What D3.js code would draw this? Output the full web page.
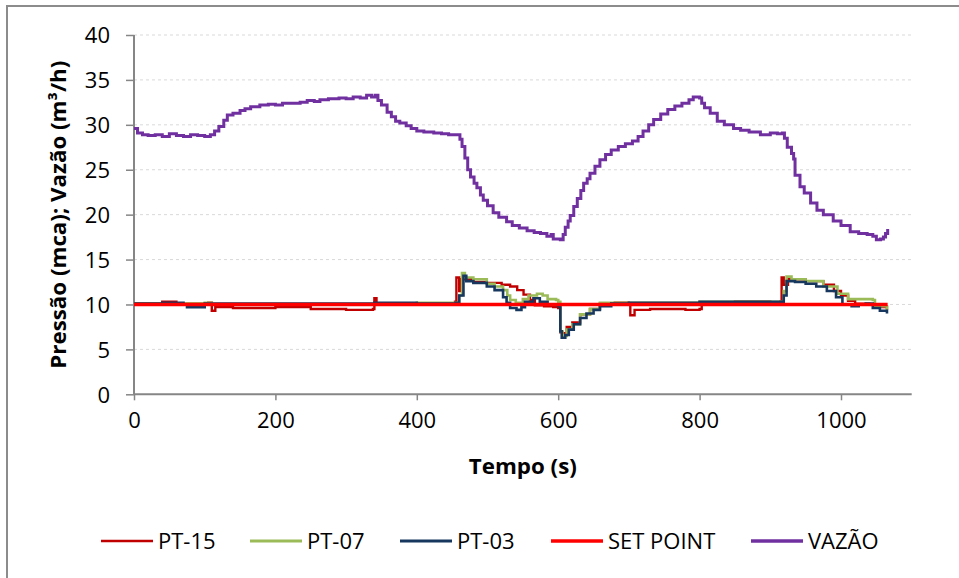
<!DOCTYPE html>
<html>
<head>
<meta charset="utf-8">
<script src="https://cdn.jsdelivr.net/npm/d3@7"></script>
<style>
  body { margin: 0; background: #fff; }
  svg { font-family: "Open Sans", Lato, sans-serif; }
</style>
</head>
<body>
<svg width="959" height="578"></svg>
<script>
// time (s) / value pairs
var vazao = [[0,29.6],[5,29.1],[12,28.9],[20,28.8],[30,28.9],[40,28.7],[50,29.0],[60,28.8],[70,28.7],[80,28.9],[90,28.8],[100,28.7],[108,28.9],[114,29.3],[120,29.8],[127,30.5],[132,31.1],[140,31.3],[150,31.6],[157,31.8],[165,32.0],[178,32.2],[190,32.3],[200,32.2],[210,32.4],[221,32.4],[235,32.5],[245,32.7],[255,32.6],[263,32.8],[275,32.9],[290,33.0],[300,32.9],[310,33.1],[320,33.0],[329,33.3],[336,33.1],[341,33.3],[345,32.7],[350,32.2],[358,31.4],[364,30.9],[370,30.4],[376,30.2],[385,29.9],[392,29.6],[400,29.3],[410,29.2],[424,29.1],[435,29.0],[445,28.9],[457,28.9],[461,28.4],[464,27.6],[468,26.3],[472,25.0],[476,24.2],[481,23.5],[485,23.0],[490,22.2],[494,21.6],[500,21.0],[508,20.2],[516,19.7],[527,19.2],[535,18.8],[545,18.5],[556,18.2],[566,18.0],[575,17.9],[584,17.6],[590,17.8],[593,17.3],[603,17.2],[607,17.8],[610,18.6],[614,19.3],[617,19.9],[622,20.9],[627,21.8],[632,22.7],[636,23.5],[641,24.0],[645,24.6],[652,25.4],[659,26.1],[667,26.7],[675,27.2],[685,27.6],[695,27.9],[705,28.2],[713,28.7],[720,29.3],[728,30.0],[735,30.6],[745,31.2],[755,31.7],[765,32.1],[775,32.4],[785,32.8],[791,33.1],[800,33.0],[803,32.4],[807,31.9],[815,31.3],[825,30.4],[835,30.0],[848,29.6],[858,29.4],[870,29.2],[886,28.9],[900,29.1],[910,29.0],[917,29.1],[920,28.5],[924,27.5],[930,26.8],[933,26.2],[935,24.4],[942,23.1],[948,22.4],[957,21.3],[966,20.5],[975,20.0],[989,19.3],[1000,18.8],[1013,18.1],[1025,17.9],[1037,17.8],[1045,17.6],[1050,17.2],[1056,17.3],[1060,17.5],[1063,17.9],[1066,18.4]];

var pt15 = [[0,10.1],[40,10.3],[60,10.1],[105,10.2],[110,9.3],[115,9.7],[140,9.6],[200,9.7],[250,9.5],[300,9.4],[338,9.5],[340,10.7],[343,10.1],[400,10.0],[440,10.1],[454,10.3],[456,13.0],[460,11.5],[463,12.8],[480,12.5],[499,12.4],[520,12.2],[532,12.0],[542,11.6],[551,11.1],[560,10.5],[567,9.9],[580,9.8],[593,9.7],[600,9.6],[603,6.9],[606,6.8],[612,7.5],[620,8.0],[631,8.9],[645,9.5],[659,10.1],[680,10.2],[700,10.1],[702,8.8],[708,9.4],[730,9.5],[780,9.4],[800,9.5],[803,10.2],[850,10.3],[900,10.2],[914,10.3],[916,13.0],[919,12.2],[925,12.8],[950,12.6],[975,12.2],[990,11.5],[1000,11.0],[1010,10.4],[1020,10.1],[1040,10.0],[1055,9.7],[1065,9.4]];

var pt07 = [[0,10.1],[100,10.2],[110,10.0],[200,10.0],[340,10.1],[400,10.2],[455,10.2],[460,11.0],[464,13.5],[468,13.0],[480,12.8],[499,12.3],[510,12.0],[522,11.6],[528,11.0],[532,10.5],[540,10.2],[550,10.6],[558,11.0],[570,11.2],[578,11.0],[585,10.6],[597,10.5],[600,10.3],[603,7.0],[606,6.5],[612,7.2],[620,7.8],[631,8.9],[645,9.5],[659,10.2],[690,10.2],[800,10.3],[915,10.3],[919,11.5],[923,13.1],[930,12.8],[950,12.6],[975,12.0],[995,11.2],[1010,10.6],[1030,10.6],[1045,10.5],[1048,9.8],[1055,9.8],[1065,9.4]];

var pt03 = [[0,10.1],[40,10.2],[70,10.0],[75,9.7],[95,9.7],[100,10.1],[200,10.1],[340,10.2],[400,10.1],[455,10.2],[460,11.0],[466,13.2],[470,12.6],[480,12.4],[499,12.0],[510,11.6],[522,10.8],[527,10.2],[532,9.6],[541,9.4],[548,9.7],[553,10.3],[565,10.7],[574,10.3],[585,10.0],[600,9.8],[603,7.0],[605,6.3],[610,6.6],[615,7.2],[622,7.8],[631,8.5],[640,9.0],[650,9.4],[659,9.8],[675,10.1],[700,10.2],[800,10.3],[915,10.3],[919,11.0],[923,12.6],[935,12.5],[950,12.3],[965,12.0],[980,11.5],[993,10.8],[1002,10.0],[1015,9.8],[1025,10.0],[1035,10.1],[1045,9.6],[1055,9.3],[1065,9.0]];

var setPoint = [[0,10],[1066,10]];

var seriesNames = ["PT-15", "PT-07", "PT-03", "SET POINT", "VAZÃO"];
var xTicks = [0, 200, 400, 600, 800, 1000];
var yTicks = [0, 5, 10, 15, 20, 25, 30, 35, 40];

function drawChart()
{
    var svg = d3.select("svg");
    var left = 134, right = 911.7, top = 35, bottom = 394.3;

    // outer chart frame
    svg.append("rect")
        .attr("x", 7).attr("y", 6)
        .attr("width", 970).attr("height", 600)
        .attr("fill", "none")
        .attr("stroke", "#8c8c8c")
        .attr("stroke-width", 2);

    var xScale = d3.scaleLinear().domain([0, 1100]).range([left, right]);
    var yScale = d3.scaleLinear().domain([0, 40]).range([bottom, top]);

    // grid
    svg.append("g")
        .selectAll("line")
        .data(yTicks.filter(function(d) { return d > 0; }))
        .enter()
        .append("line")
        .attr("x1", left).attr("x2", right)
        .attr("y1", function(d) { return yScale(d); })
        .attr("y2", function(d) { return yScale(d); })
        .attr("stroke", "#d9d9d9")
        .attr("stroke-dasharray", "3,3");

    var y_axis = d3.axisLeft(yScale).tickValues(yTicks).tickFormat(d3.format("d")).tickSize(8).tickPadding(16);
    var x_axis = d3.axisBottom(xScale).tickValues(xTicks).tickFormat(d3.format("d")).tickSize(6).tickPadding(12);

    var gy = svg.append("g")
        .attr("transform", "translate(" + left + ",0)")
        .call(y_axis);
    var gx = svg.append("g")
        .attr("transform", "translate(0," + bottom + ")")
        .call(x_axis);

    [gx, gy].forEach(function(g) {
        g.select(".domain").attr("stroke", "#868686").attr("stroke-width", 2);
        g.selectAll(".tick line").attr("stroke", "#868686").attr("stroke-width", 1.5);
        g.selectAll(".tick text").attr("fill", "#000").style("font-size", "22px")
            .style("font-family", "'Open Sans', Lato, sans-serif");
    });
    gy.selectAll(".tick text").attr("dy", "0.35em");
    // x axis ends without tick at 1100, y domain without outer ticks
    gx.select(".domain").attr("d", "M" + left + ",0H" + right);
    gy.select(".domain").attr("d", "M0," + bottom + "V" + top);

    var line = d3.line()
        .x(function(d) { return xScale(d[0]); })
        .y(function(d) { return yScale(d[1]); })
        .curve(d3.curveStepAfter);

    var series = [
        {data: pt15, color: "#c00000", width: 2.4},
        {data: pt07, color: "#9bbb59", width: 2.6},
        {data: pt03, color: "#17375e", width: 2.6},
        {data: setPoint, color: "#ff0000", width: 3.4},
        {data: vazao, color: "#7030a0", width: 3}
    ];

    series.forEach(function(s) {
        svg.append("path")
            .attr("d", line(s.data))
            .attr("fill", "none")
            .attr("stroke", s.color)
            .attr("stroke-width", s.width)
            .attr("stroke-linejoin", "miter");
    });

    // axis titles
    svg.append("text")
        .attr("x", (left + right) / 2).attr("y", 474)
        .attr("text-anchor", "middle")
        .style("font-size", "21px").style("font-weight", "bold")
        .attr("textLength", 108).attr("lengthAdjust", "spacingAndGlyphs")
        .text("Tempo (s)");

    svg.append("text")
        .attr("transform", "translate(66," + ((top + bottom) / 2) + ") rotate(-90)")
        .attr("text-anchor", "middle")
        .style("font-size", "21px").style("font-weight", "bold")
        .attr("textLength", 308).attr("lengthAdjust", "spacingAndGlyphs")
        .text("Pressão (mca); Vazão (m³/h)");

    // legend
    var legendX = [101, 250, 400, 551, 751];
    var legend = svg.append("g");
    series.forEach(function(s, i) {
        legend.append("line")
            .attr("x1", legendX[i]).attr("x2", legendX[i] + 52)
            .attr("y1", 541).attr("y2", 541)
            .attr("stroke", s.color)
            .attr("stroke-width", s.width + 0.3);
        legend.append("text")
            .attr("x", legendX[i] + 57).attr("y", 549)
            .style("font-size", "22px")
            .text(seriesNames[i]);
    });
}

drawChart();
</script>
</body>
</html>
